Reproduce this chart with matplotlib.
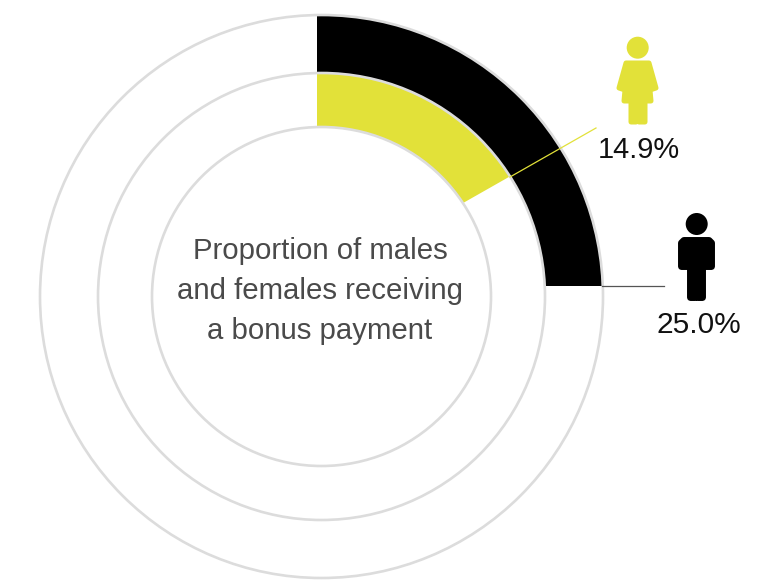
import matplotlib
matplotlib.use("Agg")
import matplotlib.pyplot as plt
from matplotlib.patches import Circle, Wedge, Polygon

plt.rcParams['font.family'] = ['Liberation Sans', 'DejaVu Sans']

# values and how far each sector sweeps in the picture (not linear in the value)
groups = ["Males", "Females"]
values = [25.0, 14.9]
sweep_deg = [90, 60.4]
colors = ["#000000", "#e2e139"]
centre_lines = ["Proportion of males", "and females receiving", "a bonus payment"]

grey = "#dcdcdc"
cx, cy = 321.5, 296.5
radii = [281.5, 223.5, 169.5]
apex = (317, 286)

fig = plt.figure(figsize=(7.63, 5.85), dpi=100)
ax = fig.add_axes([0, 0, 1, 1])
ax.set_xlim(0, 763)
ax.set_ylim(585, 0)
ax.axis("off")

# sectors fan out of a point a little off the ring centre, and are cut by the rings
for i in range(2):
    ring = Wedge((cx, cy), radii[i], 0, 360, width=radii[i] - radii[i + 1])
    # y axis is flipped so the angles run from straight up towards the right
    w = Wedge(apex, 420, -90, -90 + sweep_deg[i], facecolor=colors[i], edgecolor="none", zorder=2)
    ax.add_patch(w)
    w.set_clip_path(ring.get_path(), transform=ax.transData)

for r in radii:
    ax.add_patch(Circle((cx, cy), r, fill=False, edgecolor=grey, linewidth=1.9, zorder=3))

# leader lines
ax.plot([602, 664], [285.5, 285.5], color="#555555", lw=0.9, zorder=4)
ax.plot([510, 596], [177, 128], color=colors[1], lw=0.9, zorder=4)

# female icon
fc = colors[1]
ax.add_patch(Circle((637.7, 47.7), 11, color=fc, lw=0, zorder=4))
ax.add_patch(Polygon([(626, 63), (649, 63), (656, 88), (650, 90), (651, 101), (645, 101),
                      (645, 122), (639, 122), (637.5, 120), (636, 122), (631, 122), (631, 101),
                      (624, 101), (625, 90), (619, 88)],
                     closed=True, facecolor=fc, edgecolor=fc, lw=3.6, joinstyle="round", zorder=4))

# male icon
mc = colors[0]
ax.add_patch(Circle((696.7, 224), 11, color=mc, lw=0, zorder=4))
ax.add_patch(Polygon([(684, 240.5), (709, 240.5), (711.5, 243), (711.5, 266.5), (702.5, 266.5), (702.5, 297.5),
                      (698, 297.5), (696.5, 296), (695, 297.5), (690.5, 297.5), (690.5, 266.5), (681.5, 266.5),
                      (681.5, 243)],
                     closed=True, facecolor=mc, edgecolor=mc, lw=5, joinstyle="round", zorder=4))

# value labels
ax.text(638.5, 150.5, f"{values[1]:.1f}%", ha="center", va="center", fontsize=20.9, color="#111111")
ax.text(699, 325, f"{values[0]:.1f}%", ha="center", va="center", fontsize=21.5, color="#111111")

# centre text
for y, line in zip([251, 291, 331], centre_lines):
    ax.text(320, y, line, ha="center", va="center", fontsize=21.2, color="#4a4a4a")

fig.savefig("out.png", dpi=100)
